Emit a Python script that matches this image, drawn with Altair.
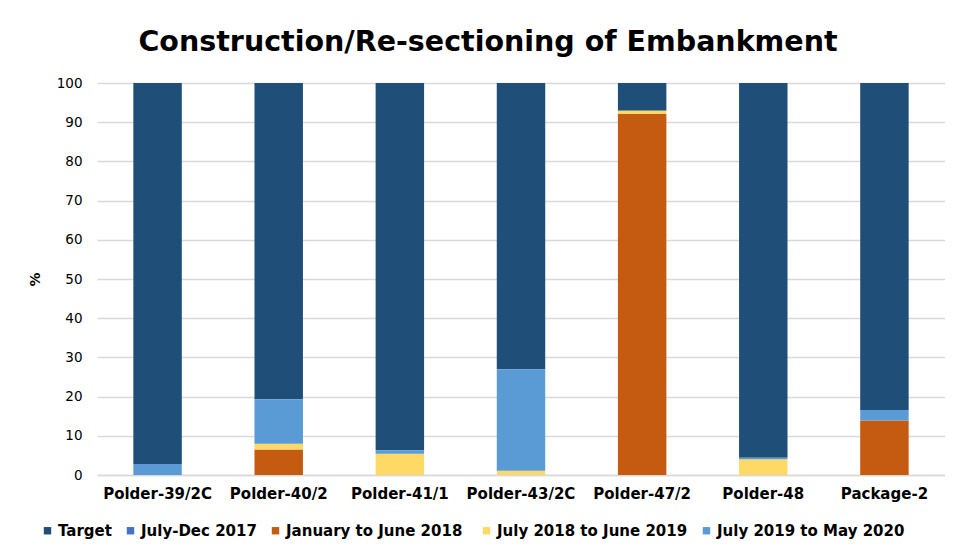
import altair as alt
import pandas as pd

categories = ["Polder-39/2C", "Polder-40/2", "Polder-41/1", "Polder-43/2C", "Polder-47/2", "Polder-48", "Package-2"]
series_names = ["Target", "July-Dec 2017", "January  to June 2018", "July 2018 to June 2019", "July 2019 to May 2020"]
series_colors = ["#1F4E79", "#4472C4", "#C55A11", "#FFD966", "#5B9BD5"]

jul_dec_2017 = [0, 0, 0, 0, 0, 0, 0]
jan_jun_2018 = [0, 6.5, 0, 0, 92.1, 0, 13.9]
jul18_jun19 = [0, 1.5, 5.4, 1.1, 0.8, 4.0, 0]
jul19_may20 = [2.8, 11.3, 0.9, 25.9, 0, 0.4, 2.7]
target = [97.2, 80.7, 93.7, 73.0, 7.1, 95.6, 83.4]

series_values = [target, jul_dec_2017, jan_jun_2018, jul18_jun19, jul19_may20]
stack_order = [5, 1, 2, 3, 4]

rows = []
for name, vals, order in zip(series_names, series_values, stack_order):
    for cat, v in zip(categories, vals):
        rows.append({"category": cat, "series": name, "value": v, "order": order})
df = pd.DataFrame(rows)

chart = alt.Chart(df).mark_bar().encode(
    x=alt.X("category:N", sort=categories,
            scale=alt.Scale(paddingInner=0.6, paddingOuter=0.3),
            axis=alt.Axis(title=None, labelAngle=0, labelFont="DejaVu Sans", labelFontWeight="bold",
                          labelFontSize=15, labelColor="#000000", labelPadding=11, ticks=False,
                          domainColor="#D9D9D9", domainWidth=1.5, grid=False)),
    y=alt.Y("value:Q", stack="zero",
            scale=alt.Scale(domain=[0, 100], nice=False),
            axis=alt.Axis(title="%", values=list(range(0, 101, 10)), labelFont="DejaVu Sans",
                          labelFontSize=13.5, labelColor="#000000", labelPadding=15, ticks=False,
                          domain=False, gridColor="#D9D9D9", gridWidth=1.5,
                          titleFont="DejaVu Sans", titleFontWeight="bold", titleFontSize=14,
                          titleColor="#000000", titlePadding=14)),
    color=alt.Color("series:N", sort=series_names,
                    scale=alt.Scale(domain=series_names, range=series_colors),
                    legend=alt.Legend(title=None, orient="none", direction="horizontal",
                                      legendX=-57, legendY=440, symbolType="square", symbolSize=55,
                                      symbolStrokeWidth=0, labelFont="DejaVu Sans",
                                      labelFontWeight="bold", labelFontSize=15, labelColor="#000000",
                                      columnPadding=11, labelOffset=3, labelLimit=300)),
    order=alt.Order("order:Q", sort="ascending"),
).properties(
    width=848, height=392,
    title=alt.TitleParams("Construction/Re-sectioning of Embankment", font="DejaVu Sans",
                          fontWeight="bold", fontSize=28.5, color="#000000", anchor="middle",
                          dx=-33, offset=20),
    autosize=alt.AutoSizeParams(type="none"),
    padding={"left": 89, "top": 75, "right": 0, "bottom": 68},
).configure_view(stroke=None)

chart.save("out.html", embed_options={"renderer": "svg", "actions": False})
